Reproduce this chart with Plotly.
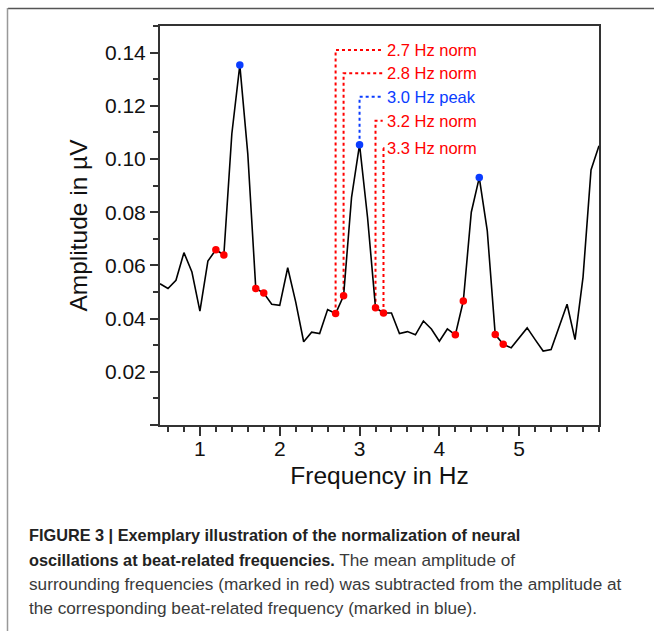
import plotly.graph_objects as go

# ---------------- data ----------------
freq = [0.5, 0.6, 0.7, 0.8, 0.9, 1.0, 1.1, 1.2, 1.3, 1.4,
        1.5, 1.6, 1.7, 1.8, 1.9, 2.0, 2.1, 2.2, 2.3, 2.4,
        2.5, 2.6, 2.7, 2.8, 2.9, 3.0, 3.1, 3.2, 3.3, 3.4,
        3.5, 3.6, 3.7, 3.8, 3.9, 4.0, 4.1, 4.2, 4.3, 4.4,
        4.5, 4.6, 4.7, 4.8, 4.9, 5.0, 5.1, 5.2, 5.3, 5.4,
        5.5, 5.6, 5.7, 5.8, 5.9, 6.0]
amplitude = [0.0531, 0.0513, 0.0544, 0.0648, 0.0575, 0.0428, 0.0616, 0.0659, 0.0639, 0.1095,
             0.1353, 0.1019, 0.0513, 0.0496, 0.0454, 0.0450, 0.0591, 0.0463, 0.0313, 0.0349,
             0.0344, 0.0434, 0.0419, 0.0486, 0.0856, 0.1054, 0.0781, 0.0441, 0.0421, 0.0421,
             0.0344, 0.0351, 0.0339, 0.0391, 0.0361, 0.0315, 0.0361, 0.0339, 0.0466, 0.0800,
             0.0930, 0.0731, 0.0340, 0.0304, 0.0290, 0.0329, 0.0365, 0.0321, 0.0278, 0.0284,
             0.0369, 0.0454, 0.0321, 0.0556, 0.0959, 0.1050]

peak_freqs = [1.5, 3.0, 4.5]
norm_freqs = [1.2, 1.3, 1.7, 1.8, 2.7, 2.8, 3.2, 3.3, 4.2, 4.3, 4.7, 4.8]

callout_freqs = [2.7, 2.8, 3.0, 3.2, 3.3]
callout_texts = ["2.7 Hz norm", "2.8 Hz norm", "3.0 Hz peak", "3.2 Hz norm", "3.3 Hz norm"]
callout_kinds = ["norm", "norm", "peak", "norm", "norm"]

x_ticks = [1, 2, 3, 4, 5]
y_ticks = [0, 0.02, 0.04, 0.06, 0.08, 0.10, 0.12, 0.14]
y_ticktext = ["", "0.02", "0.04", "0.06", "0.08", "0.10", "0.12", "0.14"]

caption_bold = [
    "FIGURE 3 | Exemplary illustration of the normalization of neural",
    "oscillations at beat-related frequencies.",
    "",
    "",
]
caption_regular = [
    "",
    " The mean amplitude of",
    "surrounding frequencies (marked in red) was subtracted from the amplitude at",
    "the corresponding beat-related frequency (marked in blue).",
]

# ---------------- styling / layout ----------------
RED = "#ff0000"
BLUE = "#0a3cff"
W, H = 654, 631
L, R, T, B = 160, 55, 26, 206
PW, PH = W - L - R, H - T - B

def px_x(px):
    return (px - L) / PW

def px_y(py):
    return (H - B - py) / PH

amp_of = {round(f, 1): a for f, a in zip(freq, amplitude)}

# callout levels (label vertical centres) and horizontal end/label start
callout_levels = [0.1410, 0.1322, 0.1234, 0.1144, 0.1040]
line_end_x = 3.29
label_x = 3.325

fig = go.Figure()

# dotted callout lines
for kind, color in (("norm", RED), ("peak", BLUE)):
    xs, ys = [], []
    for f, k, lev in zip(callout_freqs, callout_kinds, callout_levels):
        if k != kind:
            continue
        xs += [f, f, line_end_x, None]
        ys += [amp_of[f], lev, lev, None]
    fig.add_trace(go.Scatter(x=xs, y=ys, mode="lines",
                             line=dict(color=color, width=2, dash="dot"),
                             hoverinfo="skip", showlegend=False))

# spectrum
fig.add_trace(go.Scatter(x=freq, y=amplitude, mode="lines",
                         line=dict(color="black", width=1.6),
                         showlegend=False))

# markers
fig.add_trace(go.Scatter(x=norm_freqs, y=[amp_of[f] for f in norm_freqs],
                         mode="markers", marker=dict(color=RED, size=7.5),
                         showlegend=False))
fig.add_trace(go.Scatter(x=peak_freqs, y=[amp_of[f] for f in peak_freqs],
                         mode="markers", marker=dict(color=BLUE, size=7.5),
                         showlegend=False))

# callout labels
for txt, k, lev in zip(callout_texts, callout_kinds, callout_levels):
    fig.add_annotation(x=label_x, y=lev, xref="x", yref="y", text=txt,
                       showarrow=False, xanchor="left", yanchor="middle",
                       font=dict(family="Liberation Sans, Arial", size=16.5,
                                 color=RED if k == "norm" else BLUE))

# caption
cap_y = [535, 560, 584, 608]
for bold, reg, cy in zip(caption_bold, caption_regular, cap_y):
    txt = ""
    if bold:
        txt += '<span style="font-size:16.3px;color:#222222"><b>' + bold + "</b></span>"
    if reg:
        txt += reg
    fig.add_annotation(x=px_x(27), y=px_y(cy), xref="paper", yref="paper",
                       text=txt, showarrow=False, xanchor="left", yanchor="middle",
                       font=dict(family="Liberation Sans Narrow, Arial Narrow, Liberation Sans",
                                 size=17.2, color="#3a3a3a"))

# outer frame (top + left)
fig.add_shape(type="line", xref="paper", yref="paper",
              x0=px_x(8), x1=px_x(660), y0=px_y(8.5), y1=px_y(8.5),
              line=dict(color="#555555", width=1.5))
fig.add_shape(type="line", xref="paper", yref="paper",
              x0=px_x(7.5), x1=px_x(7.5), y0=px_y(8), y1=px_y(640),
              line=dict(color="#999999", width=1.5))

axis_font = dict(family="Liberation Sans, Arial", size=21, color="#111111")
title_font = dict(family="Liberation Sans, Arial", size=24.5, color="#111111")

fig.update_xaxes(range=[0.5, 6.0], tickvals=x_ticks, ticks="outside", ticklen=9,
                 tickwidth=1.5, tickcolor="#333333", ticklabelstandoff=-5,
                 minor=dict(dtick=0.2, tick0=0, ticks="outside", ticklen=5,
                            tickwidth=1.5, tickcolor="#333333"),
                 showline=True, linecolor="#333333", linewidth=2, mirror=True,
                 showgrid=False, zeroline=False, tickfont=axis_font,
                 title=dict(text="Frequency in Hz", font=title_font, standoff=8))
fig.update_yaxes(range=[0, 0.15], tickvals=y_ticks, ticktext=y_ticktext,
                 ticks="outside", ticklen=8, tickwidth=1.5, tickcolor="#333333",
                 ticklabelstandoff=0,
                 minor=dict(dtick=0.01, tick0=0, ticks="outside", ticklen=5,
                            tickwidth=1.5, tickcolor="#333333"),
                 showline=True, linecolor="#333333", linewidth=2, mirror=True,
                 showgrid=False, zeroline=False, tickfont=axis_font,
                 title=dict(text="Amplitude in µV", font=title_font, standoff=10))

fig.update_layout(width=W, height=H, margin=dict(l=L, r=R, t=T, b=B, autoexpand=False),
                  paper_bgcolor="white", plot_bgcolor="white", showlegend=False)

fig.write_html("out.html")
